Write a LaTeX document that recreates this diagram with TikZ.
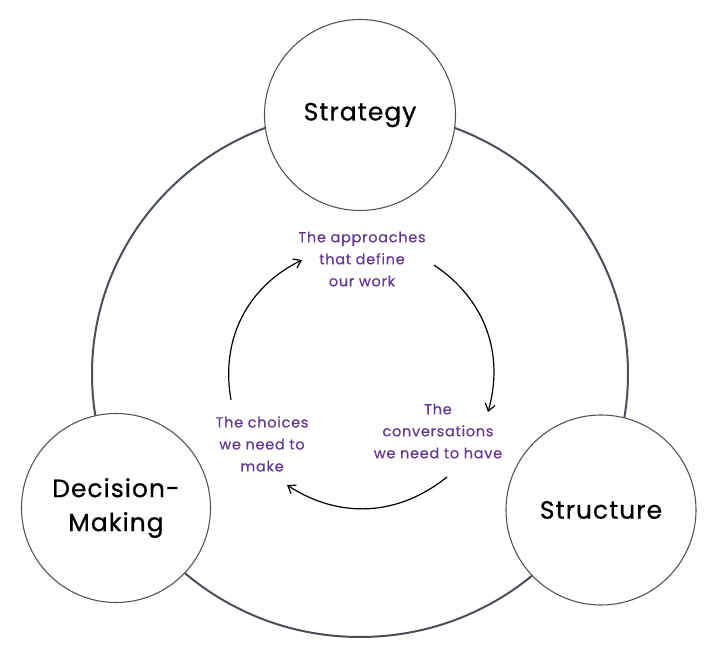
\documentclass[tikz,border=0pt]{standalone}
\usepackage{fontspec}
\setmainfont{Poppins}
\newfontfamily\topicfont{Poppins}[LetterSpace=4,FakeBold=0.6]
\newfontfamily\notefont{Poppins}[LetterSpace=5,FakeBold=0.4]
\usetikzlibrary{arrows.meta,shapes.geometric}
\definecolor{ringcol}{RGB}{73,80,87}
\definecolor{circcol}{RGB}{85,85,85}
\definecolor{purp}{RGB}{100,58,140}
\tikzset{
  ring/.style={draw=ringcol,line width=2pt,ellipse,minimum width=536pt,minimum height=526pt,inner sep=0pt},
  topic/.style={draw=circcol,line width=1.1pt,fill=white,circle,minimum size=191pt,inner sep=0pt,font=\topicfont\fontsize{25}{34}\selectfont,align=center,text=black},
  note/.style={text=purp,font=\notefont\fontsize{14.5}{22}\selectfont,align=center,inner sep=0pt},
  flow/.style={draw=black,line width=1.2pt,-{Straight Barb[length=7pt,width=10pt,line width=1.2pt]}}
}
\begin{document}
\begin{tikzpicture}[x=1pt,y=-1pt]
\useasboundingbox[fill=white] (0,0) rectangle (716,658);
\node[ring] (cycle) at (360,374) {};
\node[topic] (strategy) at (360,115) {Strategy};
\node[topic,minimum size=189pt] (decision) at (116,508) {Decision-\\Making};
\node[topic,minimum size=190pt] (structure) at (601,510) {Structure};
\node[note] (approaches) at (362,259) {The approaches\\that define\\our work};
\node[note] (choices) at (262,444) {The choices\\we need to\\make};
\node[note] (conversations) at (438,431) {The\\conversations\\we need to have};
\coordinate (a1s) at (434,265);
\coordinate (a1e) at (488,412);
\coordinate (a2s) at (447,477);
\coordinate (a2e) at (287,485);
\coordinate (a3s) at (231,400);
\coordinate (a3e) at (302,260);
\draw[flow] (a1s) to[bend left=36] (a1e);
\draw[flow] (a2s) to[bend left=36] (a2e);
\draw[flow] (a3s) to[bend left=37] (a3e);
\end{tikzpicture}
\end{document}
